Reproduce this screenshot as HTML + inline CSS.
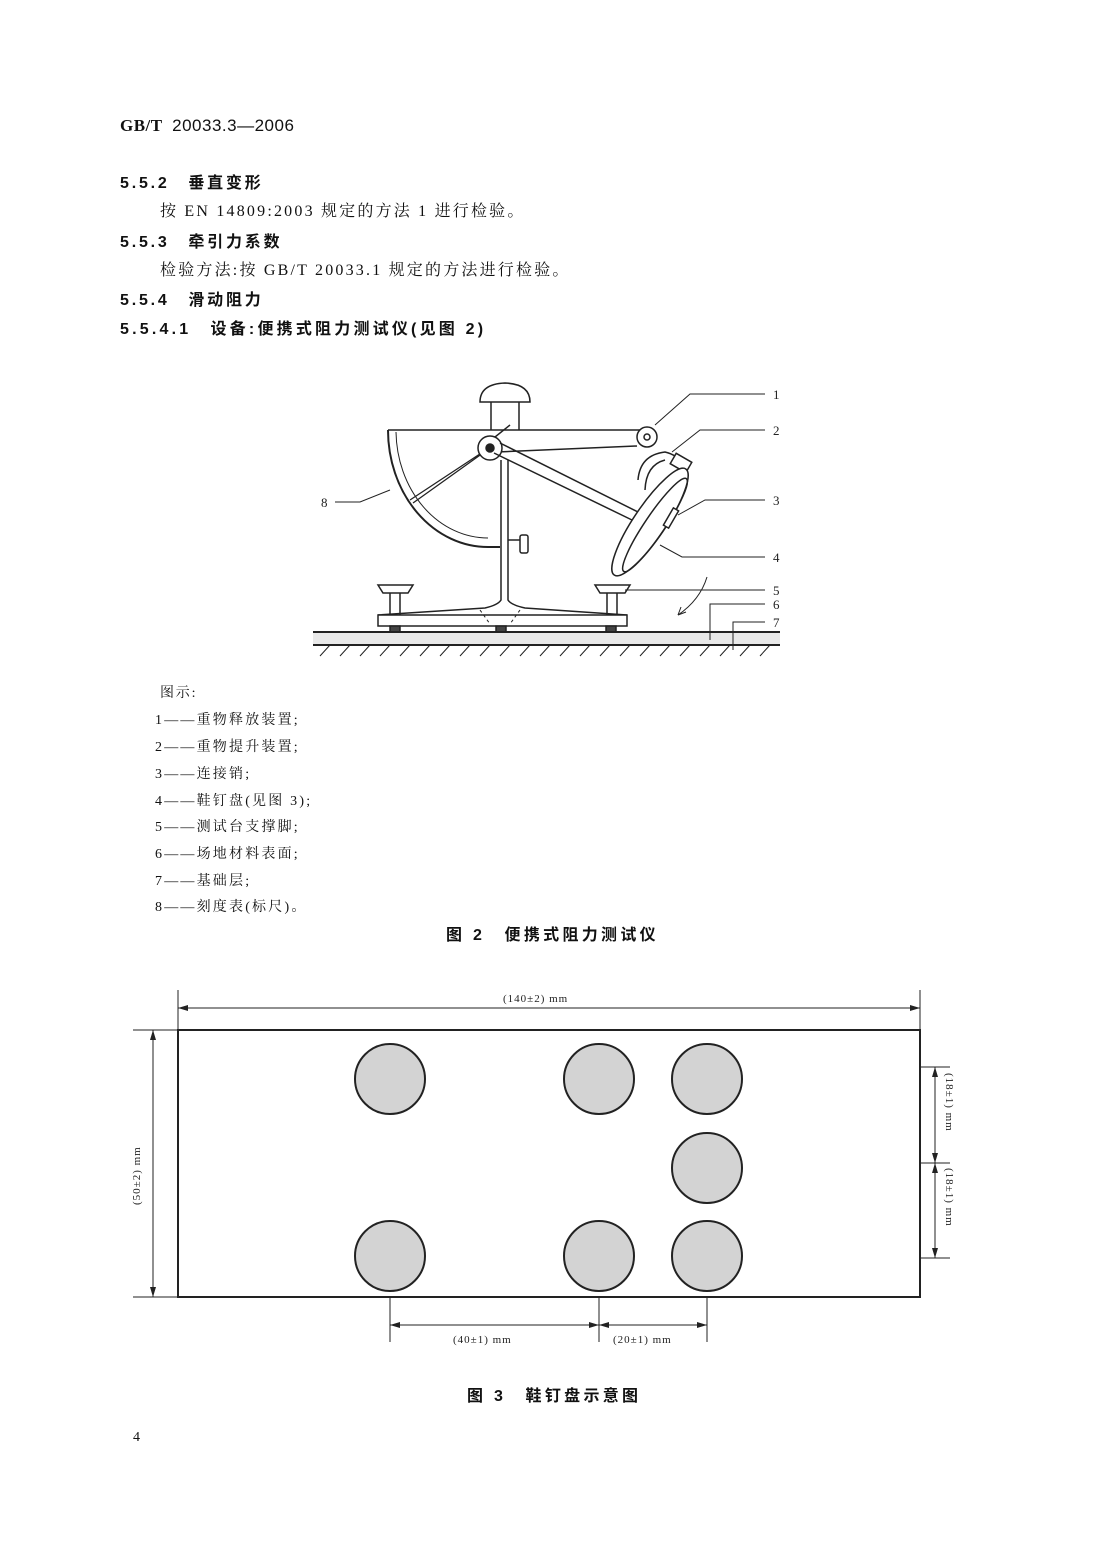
<!DOCTYPE html>
<html><head><meta charset="utf-8"><style>
body{margin:0;background:#fff;}
.p{position:relative;width:1106px;height:1562px;font-family:"Liberation Serif","Noto Serif CJK SC","Noto Sans CJK SC",serif;color:#111;}
.t{position:absolute;white-space:nowrap;}
.h{font-family:"Liberation Sans","Noto Sans CJK SC",sans-serif;font-weight:bold;font-size:16px;letter-spacing:2.8px;}
.b{font-size:16px;letter-spacing:2.2px;}
.l{font-size:14px;letter-spacing:1.8px;}
svg{position:absolute;left:0;top:0;}
</style></head><body><div class="p">
<div class="t" style="left:120px;top:116px;font-size:17px;letter-spacing:0.5px;"><b style="font-family:'Liberation Serif',serif">GB/T</b>&nbsp;&nbsp;<span style="font-family:'Liberation Sans',sans-serif">20033.3—2006</span></div>
<div class="t h" style="left:120px;top:169px;">5.5.2　垂直变形</div>
<div class="t b" style="left:160px;top:198px;">按 EN 14809:2003 规定的方法 1 进行检验。</div>
<div class="t h" style="left:120px;top:228px;">5.5.3　牵引力系数</div>
<div class="t b" style="left:160px;top:257px;">检验方法:按 GB/T 20033.1 规定的方法进行检验。</div>
<div class="t h" style="left:120px;top:286px;">5.5.4　滑动阻力</div>
<div class="t h" style="left:120px;top:315px;letter-spacing:3.2px;">5.5.4.1　设备:便携式阻力测试仪(见图 2)</div>

<div class="t l" style="left:160px;top:682px;">图示:</div>
<div class="t l" style="left:155px;top:709px;letter-spacing:2.2px;">1——重物释放装置;</div>
<div class="t l" style="left:155px;top:736px;letter-spacing:2.2px;">2——重物提升装置;</div>
<div class="t l" style="left:155px;top:763px;letter-spacing:2.2px;">3——连接销;</div>
<div class="t l" style="left:155px;top:790px;letter-spacing:2.2px;">4——鞋钉盘(见图 3);</div>
<div class="t l" style="left:155px;top:816px;letter-spacing:2.2px;">5——测试台支撑脚;</div>
<div class="t l" style="left:155px;top:843px;letter-spacing:2.2px;">6——场地材料表面;</div>
<div class="t l" style="left:155px;top:870px;letter-spacing:2.2px;">7——基础层;</div>
<div class="t l" style="left:155px;top:896px;letter-spacing:2.2px;">8——刻度表(标尺)。</div>
<div class="t h" style="left:446px;top:921px;letter-spacing:3.3px;">图 2　便携式阻力测试仪</div>
<div class="t h" style="left:467px;top:1382px;letter-spacing:3.3px;">图 3　鞋钉盘示意图</div>
<div class="t l" style="left:133px;top:1430px;">4</div>

<svg width="1106" height="1562" viewBox="0 0 1106 1562" fill="none" stroke="#222" stroke-width="1.5">
<path d="M480 402 Q480 384 505 383 Q530 384 530 402 Z" fill="#fff"/>
<path d="M491 402V430M519 402V430"/>
<path d="M388 430H640"/>
<path d="M388 430 A100 117 0 0 0 488 547 H500" stroke-width="2"/>
<path d="M396 432 A92 108 0 0 0 488 538" stroke-width="1"/>
<path d="M497 452L637 446"/>
<path d="M490 448L413 503M495 444L410 500" stroke-width="1.3"/>
<path d="M485 445L510 425"/>
<circle cx="490" cy="448" r="12" fill="#fff"/><circle cx="490" cy="448" r="4" fill="#222"/>
<circle cx="647" cy="437" r="10" fill="#fff"/><circle cx="647" cy="437" r="3"/>
<path d="M494 453L632 520M500 443L638 512"/>
<path d="M501 460V600 Q498 605 485 608 L378 615M508 460V600 Q511 605 525 608 L627 615"/>
<path d="M508 540H520"/><rect x="520" y="535" width="8" height="18" rx="2" fill="#fff"/>
<rect x="378" y="615" width="249" height="11" fill="#fff"/>
<path d="M480 610L490 624M520 610L510 624" stroke-dasharray="3 3" stroke-width="1"/>
<path d="M378 585H413L408 593H383Z M390 593V615M400 593V615"/>
<path d="M595 585H630L625 593H600Z M607 593V615M617 593V615"/>
<rect x="390" y="626" width="10" height="6" fill="#444"/><rect x="496" y="626" width="10" height="6" fill="#444"/><rect x="606" y="626" width="10" height="6" fill="#444"/>
<path d="M638 480 Q640 455 665 452 Q678 455 683 465 M645 490 Q646 465 665 460" />
<rect x="672" y="457" width="18" height="12" transform="rotate(30 681 463)" fill="#fff"/>
<ellipse cx="650" cy="522" rx="64" ry="16" transform="rotate(124 650 522)" fill="#fff"/>
<ellipse cx="655" cy="525" rx="56" ry="10" transform="rotate(124 655 525)"/>
<rect x="668" y="508" width="6" height="20" transform="rotate(30 671 518)" fill="#fff"/>
<path d="M707 577 Q700 600 678 615" stroke-width="1"/><path d="M678 615l3-8M678 615l8-3" stroke-width="1"/>
<rect x="313" y="632" width="467" height="13" fill="#e9e9e9" stroke="none"/>
<path d="M313 632H780M313 645H780" stroke-width="2"/>
<path d="M320 656l10-11M340 656l10-11M360 656l10-11M380 656l10-11M400 656l10-11M420 656l10-11M440 656l10-11M460 656l10-11M480 656l10-11M500 656l10-11M520 656l10-11M540 656l10-11M560 656l10-11M580 656l10-11M600 656l10-11M620 656l10-11M640 656l10-11M660 656l10-11M680 656l10-11M700 656l10-11M720 656l10-11M740 656l10-11M760 656l10-11" stroke-width="1"/>
<g stroke-width="1">
<path d="M655 425L690 394H765M672 452L700 430H765M678 515L705 500H765M660 545L682 557H765M625 590H765M710 640V604H765M733 650V622H765M335 502H360L390 490"/>
</g>
<g fill="#222" stroke="none" font-family="Liberation Serif,serif" font-size="13">
<text x="773" y="399">1</text><text x="773" y="435">2</text><text x="773" y="505">3</text><text x="773" y="562">4</text><text x="773" y="595">5</text><text x="773" y="609">6</text><text x="773" y="627">7</text><text x="321" y="507">8</text>
</g>
<rect x="178" y="1030" width="742" height="267" stroke-width="2"/>
<g fill="#d3d3d3" stroke-width="2">
<circle cx="390" cy="1079" r="35"/><circle cx="599" cy="1079" r="35"/><circle cx="707" cy="1079" r="35"/>
<circle cx="707" cy="1168" r="35"/>
<circle cx="390" cy="1256" r="35"/><circle cx="599" cy="1256" r="35"/><circle cx="707" cy="1256" r="35"/>
</g>
<g stroke-width="1">
<path d="M178 990V1030M920 990V1030M178 1008H920"/>
<path d="M133 1030H178M133 1297H178M153 1030V1297"/>
<path d="M920 1067H950M920 1163H950M920 1258H950M935 1067V1258"/>
<path d="M390 1297V1342M599 1297V1342M707 1297V1342M390 1325H707"/>
</g>
<g fill="#222" stroke="none">
<path d="M178 1008l10-3v6zM920 1008l-10-3v6z"/>
<path d="M153 1030l-3 10h6zM153 1297l-3-10h6z"/>
<path d="M935 1067l-3 10h6zM935 1163l-3-10h6zM935 1163l-3 10h6zM935 1258l-3-10h6z"/>
<path d="M390 1325l10-3v6zM599 1325l-10-3v6zM599 1325l10-3v6zM707 1325l-10-3v6z"/>
</g>
<g fill="#222" stroke="none" font-family="Liberation Serif,serif" font-size="11" letter-spacing="1">
<text x="503" y="1002">(140±2) mm</text>
<text x="453" y="1343">(40±1) mm</text>
<text x="613" y="1343">(20±1) mm</text>
<text transform="translate(140 1205) rotate(-90)">(50±2) mm</text>
<text transform="translate(946 1073) rotate(90)">(18±1) mm</text>
<text transform="translate(946 1168) rotate(90)">(18±1) mm</text>
</g>
</svg>
</div></body></html>
